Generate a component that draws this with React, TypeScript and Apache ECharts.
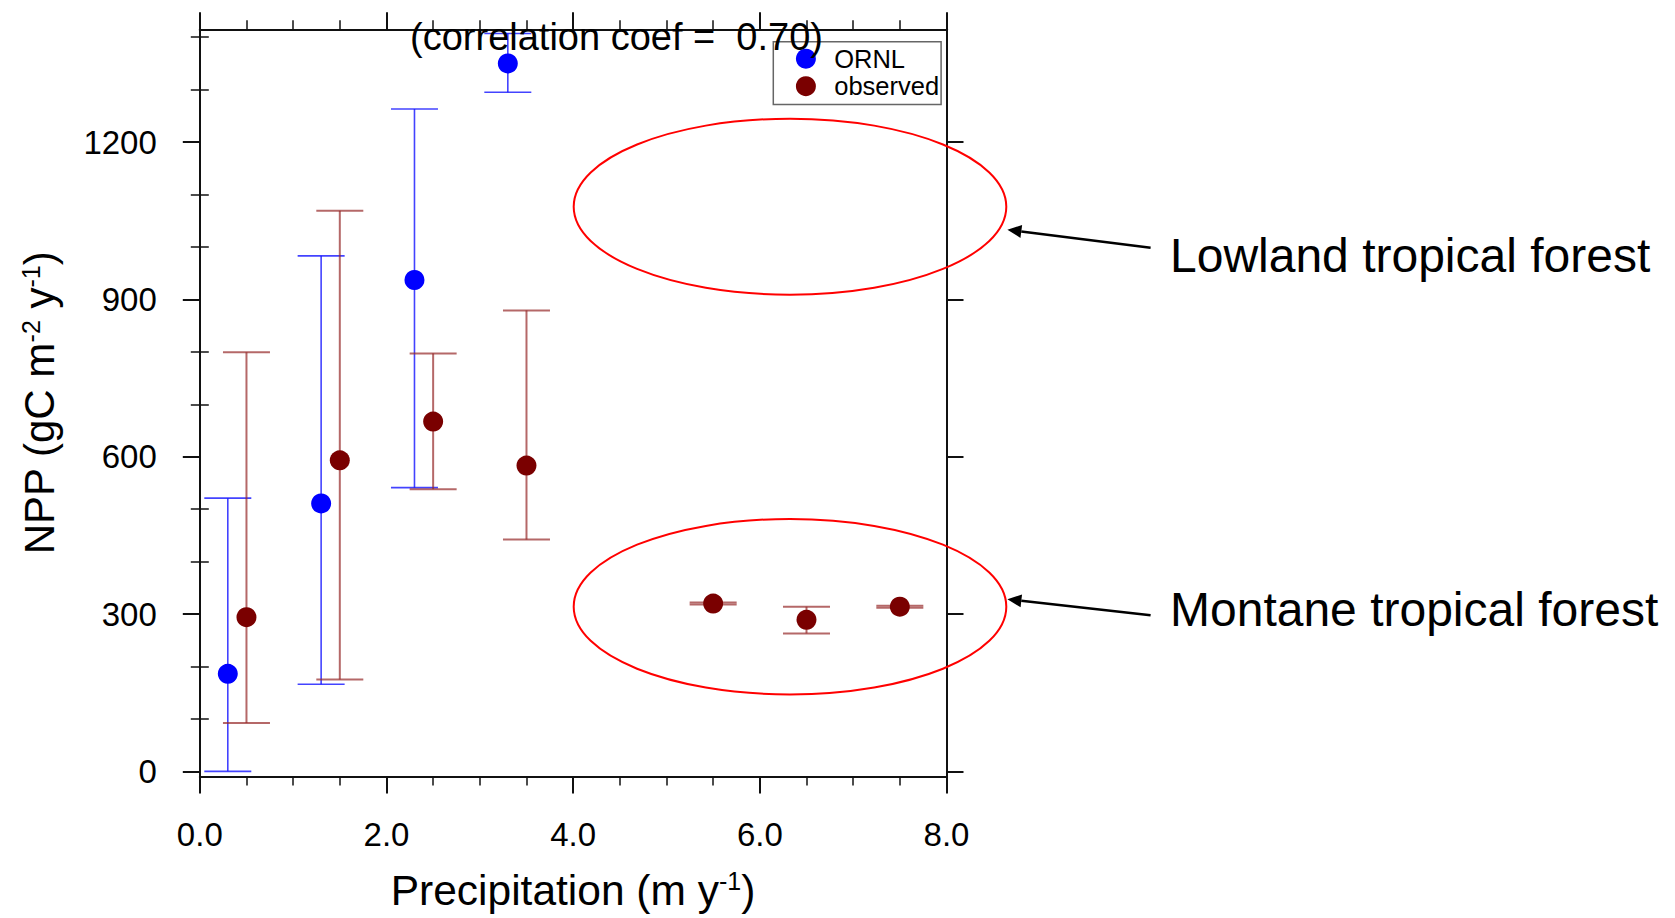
import React, { useEffect, useRef } from 'react';
import * as echarts from 'echarts';

// ---- data ----
const ornlPrecip = [0.3, 1.3, 2.3, 3.3];
const ornlNpp = [186, 511, 937, 1350];
const ornlLow = [0, 166, 541, 1295];
const ornlHigh = [521, 983, 1263, 1407];

const obsPrecip = [0.5, 1.5, 2.5, 3.5, 5.5, 6.5, 7.5];
const obsNpp = [294, 593, 667, 583, 320, 289, 314];
const obsLow = [92, 175, 538, 442, 318, 263, 312];
const obsHigh = [799, 1069, 797, 879, 322, 314, 316];

const yMajorTicks = [0, 300, 600, 900, 1200];
const yMinorTicks = [100, 200, 400, 500, 700, 800, 1000, 1100, 1300, 1400];

const titleText = '(correlation coef =  0.70)';
const seriesNames = ['ORNL', 'observed'];
const annotations = ['Lowland tropical forest', 'Montane tropical forest'];

const FONT = '"Liberation Sans", Arial, Helvetica, sans-serif';
const AX = '#111';

function errorBarSeries(name: string, xs: number[], lo: number[], hi: number[], color: string, width: number) {
  return {
    type: 'custom',
    name,
    xAxisIndex: 0,
    yAxisIndex: 0,
    z: 2,
    silent: true,
    data: xs.map((x, i) => [x, lo[i], hi[i]]),
    encode: { x: 0, y: [1, 2] },
    renderItem: (params: any, api: any) => {
      const x = api.value(0);
      const pLo = api.coord([x, api.value(1)]);
      const pHi = api.coord([x, api.value(2)]);
      const hw = 23.5;
      const style = { stroke: color, lineWidth: width, fill: 'none' };
      return {
        type: 'group',
        children: [
          { type: 'line', shape: { x1: pLo[0], y1: pLo[1], x2: pHi[0], y2: pHi[1] }, style },
          { type: 'line', shape: { x1: pHi[0] - hw, y1: pHi[1], x2: pHi[0] + hw, y2: pHi[1] }, style },
          { type: 'line', shape: { x1: pLo[0] - hw, y1: pLo[1], x2: pLo[0] + hw, y2: pLo[1] }, style },
        ],
      };
    },
  };
}

function arrow(tailX: number, tailY: number, tipX: number, tipY: number) {
  const dx = tailX - tipX;
  const dy = tailY - tipY;
  const len = Math.sqrt(dx * dx + dy * dy);
  const ux = dx / len;
  const uy = dy / len;
  const L = 14;
  const W = 6.5;
  const bx = tipX + ux * L;
  const by = tipY + uy * L;
  return [
    {
      type: 'line',
      z: 20,
      shape: { x1: tailX, y1: tailY, x2: bx, y2: by },
      style: { stroke: '#000', lineWidth: 2.5 },
    },
    {
      type: 'polygon',
      z: 20,
      shape: {
        points: [
          [tipX, tipY],
          [bx - uy * W, by + ux * W],
          [bx + uy * W, by - ux * W],
        ],
      },
      style: { fill: '#000' },
    },
  ];
}

export default function App() {
  const ref = useRef<HTMLDivElement>(null);

  useEffect(() => {
    if (!ref.current) return;
    const chart = echarts.init(ref.current, null, { renderer: 'svg' });

    const left = 199.8;
    const right = 946.5;
    const top = 29.3;
    const bottom = 776.6;
    const yMin = -10;
    const yMax = 1415;

    const lineStyle = { color: AX, width: 2 };
    const minorLine = { color: AX, width: 1.5 };

    const xCommon = {
      type: 'value',
      min: 0,
      max: 8,
      interval: 2,
      splitLine: { show: false },
      axisLine: { show: true, onZero: false, lineStyle },
      axisTick: { show: true, inside: false, length: 17, lineStyle },
      minorTick: { show: true, splitNumber: 4, length: 9, lineStyle: minorLine },
      minorSplitLine: { show: false },
    };

    const yCommon = {
      type: 'value',
      min: yMin,
      max: yMax,
      splitLine: { show: false },
    };

    const option: any = {
      animation: false,
      backgroundColor: '#ffffff',
      textStyle: { fontFamily: FONT },
      grid: {
        left,
        right: 1675 - right,
        top,
        bottom: 918 - bottom,
        containLabel: false,
      },
      xAxis: [
        {
          ...xCommon,
          position: 'bottom',
          axisLabel: {
            show: true,
            fontSize: 33,
            color: '#000',
            fontFamily: FONT,
            margin: 41,
            formatter: (v: number) => v.toFixed(1),
          },
        },
        {
          ...xCommon,
          position: 'top',
          axisLabel: { show: false },
        },
      ],
      yAxis: [
        {
          ...yCommon,
          position: 'left',
          axisLine: { show: true, onZero: false, lineStyle },
          axisTick: { show: true, inside: false, length: 17, lineStyle, customValues: yMajorTicks },
          axisLabel: {
            show: true,
            customValues: yMajorTicks,
            fontSize: 33,
            color: '#000',
            fontFamily: FONT,
            margin: 43,
            formatter: (v: number) => String(Math.round(v)),
          },
        },
        {
          ...yCommon,
          position: 'left',
          axisLine: { show: false },
          axisTick: { show: true, inside: false, length: 9, lineStyle: minorLine, customValues: yMinorTicks },
          axisLabel: { show: false },
        },
        {
          ...yCommon,
          position: 'right',
          axisLine: { show: true, onZero: false, lineStyle },
          axisTick: { show: true, inside: false, length: 17, lineStyle, customValues: yMajorTicks },
          axisLabel: { show: false },
        },
        {
          ...yCommon,
          position: 'right',
          axisLine: { show: false },
          axisTick: { show: true, inside: false, length: 9, lineStyle: minorLine, customValues: yMinorTicks },
          axisLabel: { show: false },
        },
      ],
      legend: {
        data: seriesNames,
        orient: 'vertical',
        left: 773.3,
        top: 41.7,
        icon: 'circle',
        itemWidth: 46.6,
        itemHeight: 20,
        itemGap: 1.5,
        padding: [4, 2, 5.3, 22.6],
        borderColor: '#666',
        borderWidth: 1.5,
        backgroundColor: '#fff',
        textStyle: { fontSize: 25.5, lineHeight: 25, color: '#000', fontFamily: FONT },
        z: 10,
      },
      series: [
        errorBarSeries('ORNL range', ornlPrecip, ornlLow, ornlHigh, 'rgba(20,20,255,0.8)', 1.6),
        errorBarSeries('observed range', obsPrecip, obsLow, obsHigh, 'rgba(150,40,40,0.7)', 2),
        {
          type: 'scatter',
          name: seriesNames[0],
          xAxisIndex: 0,
          yAxisIndex: 0,
          z: 3,
          symbol: 'circle',
          symbolSize: 20,
          itemStyle: { color: '#0000ff', opacity: 1 },
          data: ornlPrecip.map((x, i) => [x, ornlNpp[i]]),
        },
        {
          type: 'scatter',
          name: seriesNames[1],
          xAxisIndex: 0,
          yAxisIndex: 0,
          z: 3,
          symbol: 'circle',
          symbolSize: 20,
          itemStyle: { color: '#7a0000', opacity: 1 },
          data: obsPrecip.map((x, i) => [x, obsNpp[i]]),
        },
      ],
      graphic: [
        {
          type: 'text',
          z: 30,
          x: 616.5,
          y: 37.4,
          style: {
            text: titleText,
            fontSize: 38,
            fontFamily: FONT,
            fill: '#000',
            align: 'center',
            verticalAlign: 'middle',
          },
        },
        {
          type: 'text',
          z: 30,
          x: 573,
          y: 890,
          style: {
            text: 'Precipitation (m y{sup|-1})',
            fontSize: 42.5,
            fontFamily: FONT,
            fill: '#000',
            align: 'center',
            verticalAlign: 'middle',
            rich: {
              sup: { fontSize: 25, fontFamily: FONT, fill: '#000', verticalAlign: 'top', lineHeight: 42 },
            },
          },
        },
        {
          type: 'text',
          z: 30,
          x: 39,
          y: 403,
          rotation: Math.PI / 2,
          style: {
            text: 'NPP (gC m{sup|-2} y{sup|-1})',
            fontSize: 42,
            fontFamily: FONT,
            fill: '#000',
            align: 'center',
            verticalAlign: 'middle',
            rich: {
              sup: { fontSize: 25, fontFamily: FONT, fill: '#000', verticalAlign: 'top', lineHeight: 42 },
            },
          },
        },
        {
          type: 'ellipse',
          z: 15,
          shape: { cx: 790, cy: 206.7, rx: 216.3, ry: 88 },
          style: { fill: 'none', stroke: '#ff0000', lineWidth: 2 },
        },
        {
          type: 'ellipse',
          z: 15,
          shape: { cx: 790, cy: 606.7, rx: 216.3, ry: 87.7 },
          style: { fill: 'none', stroke: '#ff0000', lineWidth: 2 },
        },
        ...arrow(1150.6, 247.8, 1007.4, 229.7),
        ...arrow(1150.6, 615.3, 1007.4, 599.3),
        {
          type: 'text',
          z: 30,
          x: 1170,
          y: 255.3,
          style: {
            text: annotations[0],
            fontSize: 48,
            fontFamily: FONT,
            fill: '#000',
            align: 'left',
            verticalAlign: 'middle',
          },
        },
        {
          type: 'text',
          z: 30,
          x: 1170,
          y: 609.5,
          style: {
            text: annotations[1],
            fontSize: 48,
            fontFamily: FONT,
            fill: '#000',
            align: 'left',
            verticalAlign: 'middle',
          },
        },
      ],
    };

    chart.setOption(option);
    return () => {
      chart.dispose();
    };
  }, []);

  return (
    <div
      ref={ref}
      style={{ position: 'fixed', left: 0, top: 0, width: 1675, height: 918, background: '#fff' }}
    />
  );
}
